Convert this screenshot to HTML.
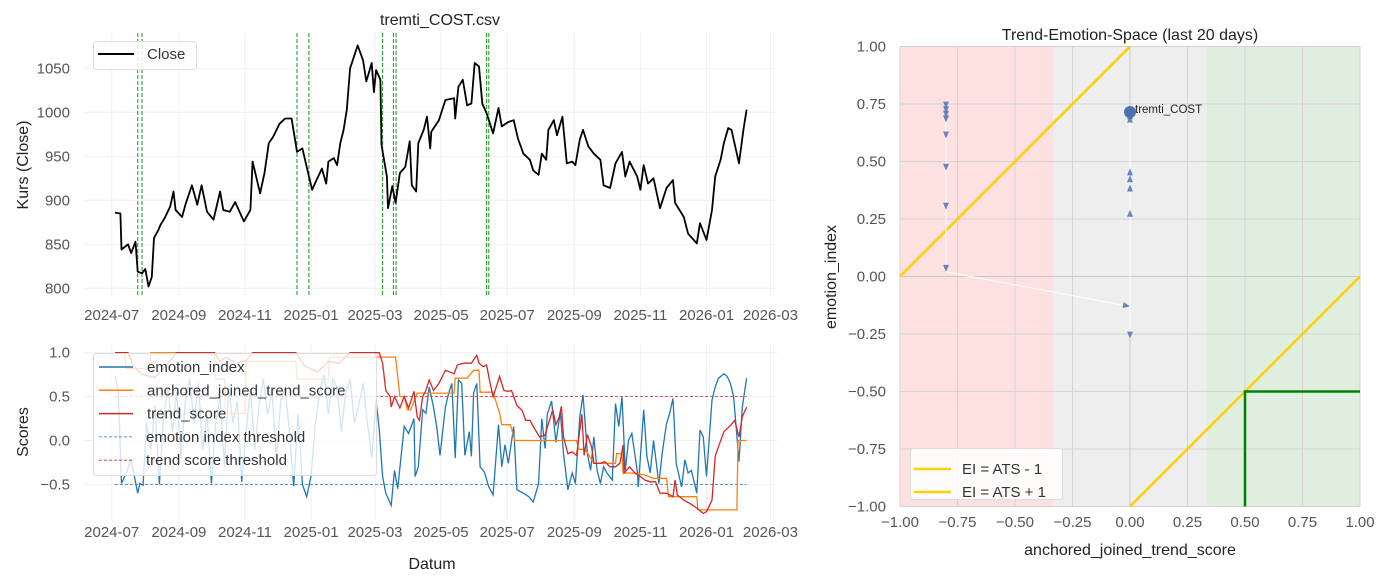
<!DOCTYPE html>
<html><head><meta charset="utf-8"><style>
html,body{margin:0;padding:0;background:#fff;}
svg{display:block;font-family:"Liberation Sans",Arial,sans-serif;}
</style></head><body>
<svg id="c" width="1388" height="584" viewBox="0 0 1388 584" xmlns="http://www.w3.org/2000/svg"></svg>
<script>
// ---- data (days since 2024-07-01) ----
const closeDays=[3,8,9,15,18,22,24,28,31,34,37,39,43,45,49,54,57,59,65,68,74,79,83,88,94,100,103,109,114,122,128,130,137,141,145,149,155,160,166,171,176,180,185,189,194,198,200,205,208,211,214,217,220,223,227,232,235,240,242,244,248,249,254,255,259,262,266,271,275,277,281,283,288,291,294,295,302,308,316,317,320,324,328,332,335,339,342,346,352,357,360,366,371,375,380,386,389,394,397,401,403,408,411,416,420,425,428,432,435,440,445,451,454,460,465,471,474,478,485,488,491,495,500,506,512,518,520,528,532,540,543,549,554,557,562,565,569,572,579,583,586];
const closeVals=[886,885,844,850,840,853,819,817,822,802,813,857,866,872,880,893,910,889,881,895,917,895,917,887,878,910,889,887,898,876,889,944,908,931,965,972,987,993,993,955,959,938,912,923,936,919,944,948,940,965,980,1003,1050,1061,1076,1059,1035,1056,1023,1048,1037,963,927,891,916,897,931,938,967,917,910,965,980,995,959,978,991,1014,1016,993,1029,1037,1008,1010,1056,1052,1010,999,976,1005,984,989,991,970,953,946,934,929,953,946,980,991,974,995,942,944,940,969,980,961,953,946,917,914,942,955,927,944,927,912,940,919,925,891,914,923,897,881,862,851,874,855,889,927,946,965,982,980,942,980,1003];
const signalDays=[24,28,171,182,250,260,262.5,346,348];
const trendDays=[3,15,20,28,40,50,60,95,100,105,115,125,130,170,178,190,200,210,220,247,250,253,257,258,261,266,270,274,279,282,284,287,290,293,297,302,308,316,319,325,332,337,339,343,346,349,352,355,358,362,366,369,374,379,382,386,391,395,400,403,407,410,413,415,417,421,425,429,434,436,439,443,445,451,455,460,465,469,472,473,478,483,488,492,497,502,506,512,518,520,522,528,534,540,546,549,554,557,560,565,571,575,579,582,586];
const trendVals=[1,1,0.85,0.75,0.72,0.85,1,1,0.9,0.95,0.88,0.92,1,1,0.85,0.78,0.9,0.88,1,1,0.88,0.57,0.5,0.38,0.5,0.37,0.5,0.37,0.56,0.27,0.23,0.5,0.57,0.69,0.57,0.65,0.8,0.76,0.86,0.88,0.88,0.97,0.88,0.84,0.86,0.67,0.5,0.61,0.73,0.57,0.56,0.57,0.4,0.34,0.23,0.23,0.12,0.04,0.06,0.19,0.35,0.18,0.27,0.39,0.04,-0.15,-0.13,-0.17,0.3,-0.17,0.07,-0.08,-0.26,-0.26,-0.24,-0.3,-0.3,-0.26,-0.05,-0.37,-0.3,-0.37,-0.41,-0.45,-0.47,-0.47,-0.6,-0.6,-0.64,-0.45,-0.62,-0.68,-0.72,-0.77,-0.83,-0.81,-0.68,-0.18,-0.07,0.1,0.17,0.23,0.04,0.27,0.38];
const anchDays=[3,12,13,35,36,95,96,104,105,123,124,170,171,200,201,247,250,262,266,270,273,276,282,303,316,317,328,334,339,340,352,358,360,368,372,429,431,437,445,465,466,471,472,480,491,500,512,514,540,541,577,578,586];
const anchVals=[1,1,0.82,0.82,1,1,0.7,0.7,0.31,0.31,0.9,0.9,0.7,0.7,0.95,0.95,0.95,0.95,0.5,0.5,0.35,0.35,0.54,0.54,0.54,0.71,0.71,0.8,0.8,0.55,0.55,0.31,0.18,0.18,0,0,-0.1,-0.1,-0.26,-0.26,-0.15,-0.15,-0.37,-0.37,-0.39,-0.43,-0.43,-0.64,-0.64,-0.79,-0.79,0,0];
const emoDays=[3,6,9,12,18,24,26,29,32,36,40,44,48,52,56,60,64,68,72,76,80,84,88,92,96,100,104,108,112,116,120,124,128,132,136,140,144,148,152,156,160,164,168,172,176,180,184,188,192,196,200,204,208,212,216,220,224,228,232,236,240,244,247,250,253,258,261,264,267,270,274,279,280,283,287,290,293,297,300,303,308,311,314,317,320,323,326,330,332,334,337,340,344,348,352,357,360,363,366,371,374,380,385,389,394,397,400,402,406,410,414,417,421,425,428,432,435,439,442,445,448,451,454,457,462,465,468,471,474,477,480,485,486,491,494,497,500,505,508,512,515,518,521,526,529,532,535,540,543,546,549,554,557,560,565,568,571,574,579,582,586];
const emoVals=[0.73,0.58,-0.49,-0.41,-0.22,-0.6,-0.49,-0.51,0.2,-0.1,0.4,-0.5,0.3,0.6,0.1,0.55,-0.2,0.45,0.7,0.2,0.65,-0.1,0.3,-0.49,0.2,0.5,-0.3,0.6,0.2,0.45,-0.47,0.1,0.6,-0.1,0.4,0.7,0.3,0.55,-0.2,0.45,0.6,0.1,-0.52,0.3,-0.5,-0.64,-0.4,0.2,0.55,0.75,0.3,0.7,0.6,0.1,0.55,0.7,0.2,0.4,0.65,0.2,-0.2,0.45,0.12,-0.41,-0.6,-0.74,-0.34,-0.55,-0.19,0.16,0.08,0.25,-0.41,-0.3,0.35,0.31,0.61,0.38,0.16,-0.17,0.38,0.54,0.65,-0.2,0.69,0.65,-0.17,0.1,-0.18,0.54,0.65,-0.3,-0.36,-0.53,-0.62,0.18,-0.3,-0.05,-0.26,0.16,-0.56,-0.6,-0.64,-0.7,-0.49,0.25,-0.09,0.3,0.45,-0.02,0.33,-0.15,-0.56,-0.37,-0.49,0.27,0.52,-0.15,-0.34,0.04,-0.34,-0.49,-0.3,-0.37,-0.45,0.42,0.16,0.5,-0.34,0,0.08,-0.34,-0.53,0.35,-0.18,-0.37,0,-0.49,-0.15,0.19,0.31,0.48,-0.26,-0.53,-0.22,-0.37,-0.34,-0.6,0.12,0.04,-0.41,0.46,0.61,0.71,0.76,0.73,0.65,0.5,-0.24,0.38,0.71];
const emoThreshold=-0.5, trendThreshold=0.5;
const monthTickDays=[0,62,123,184,243,304,365,427,488,549,608];
const monthTickLabels=["2024-07","2024-09","2024-11","2025-01","2025-03","2025-05","2025-07","2025-09","2025-11","2026-01","2026-03"];
const closeTicks=[800,850,900,950,1000,1050];
const scoreTicks=[-0.5,0,0.5,1.0];
const scoreTickLabels=["\u22120.5","0.0","0.5","1.0"];
const trajATS=[-0.8,-0.8,-0.8,-0.8,-0.8,-0.8,-0.8,-0.8,-0.8,0,0,0,0,0,0,0,0];
const trajEI=[0.75,0.73,0.71,0.69,0.67,0.6,0.46,0.29,0.02,-0.13,-0.27,0.29,0.4,0.44,0.47,0.7,0.715];
const spaceTicks=[-1,-0.75,-0.5,-0.25,0,0.25,0.5,0.75,1];
const spaceTickLabels=["\u22121.00","\u22120.75","\u22120.50","\u22120.25","0.00","0.25","0.50","0.75","1.00"];

// ---- scales ----
const xD=d=>111.7+d*1.0835;
const yC=v=>112.3-(v-1000)*0.88;
const yS=v=>440.5-v*87.8;
const xR=v=>1130+v*230;
const yR=v=>276.5-v*230;

const svg=document.getElementById('c');
const NS='http://www.w3.org/2000/svg';
function mk(tag,attrs,parent){const e=document.createElementNS(NS,tag);for(const k in attrs)e.setAttribute(k,attrs[k]);(parent||svg).appendChild(e);return e;}
function txt(s,attrs,parent){const e=mk('text',attrs,parent);e.textContent=s;return e;}
function pts(xs,ys,fx,fy){return xs.map((d,i)=>fx(d).toFixed(1)+','+fy(ys[i]).toFixed(1)).join(' ');}

// ===== Top chart =====
let g=mk('g',{});


monthTickDays.forEach((d,i)=>{
  const l=mk('line',{x1:xD(d),x2:xD(d),y1:33,y2:297,stroke:'#efefef','stroke-width':1},g);
  
  
  const t=txt(monthTickLabels[i],{x:xD(d),y:320,'font-size':15,fill:'#555','text-anchor':'middle'},g);
  
  
});
closeTicks.forEach(v=>{
  const l=mk('line',{x1:85,x2:777,y1:yC(v),y2:yC(v),stroke:'#efefef','stroke-width':1},g);
  
  
  const t=txt(String(v),{x:70,y:yC(v)+5,'font-size':15,fill:'#555','text-anchor':'end'},g);
  
  
});
signalDays.forEach(d=>{
  const l=mk('line',{x1:xD(d),x2:xD(d),y1:33,y2:297,stroke:'#2ca02c','stroke-width':1.1,'stroke-dasharray':'4,2'},g);
  
  
});
let cl=mk('polyline',{points:pts(closeDays,closeVals,xD,yC),fill:'none',stroke:'#000','stroke-width':1.8,'stroke-linejoin':'round'},g);


let tt=txt('tremti_COST.csv',{x:440,y:25,'font-size':16,fill:'#222','text-anchor':'middle'},g);


let yl=txt('Kurs (Close)',{x:28,y:165,'font-size':16,fill:'#222','text-anchor':'middle',transform:'rotate(-90 28 165)'},g);


let lg=mk('g',{},g);


mk('rect',{x:93.5,y:41.5,width:103,height:28,rx:3,fill:'#fff','fill-opacity':0.85,stroke:'#ddd'},lg);
mk('line',{x1:98,x2:134,y1:54,y2:54,stroke:'#000','stroke-width':2},lg);
txt('Close',{x:147,y:59,'font-size':15,fill:'#333'},lg);

// ===== Bottom chart =====
g=mk('g',{});


monthTickDays.forEach((d,i)=>{
  const l=mk('line',{x1:xD(d),x2:xD(d),y1:345,y2:520,stroke:'#efefef','stroke-width':1},g);
  
  
  const t=txt(monthTickLabels[i],{x:xD(d),y:537,'font-size':15,fill:'#555','text-anchor':'middle'},g);
  
  
});
scoreTicks.forEach((v,i)=>{
  const l=mk('line',{x1:85,x2:777,y1:yS(v),y2:yS(v),stroke:'#efefef','stroke-width':1},g);
  
  
  const t=txt(scoreTickLabels[i],{x:70,y:yS(v)+5,'font-size':15,fill:'#555','text-anchor':'end'},g);
  
  
});
const d0=closeDays[0], d1=closeDays[closeDays.length-1];
let th1=mk('line',{x1:xD(d0),x2:xD(d1),y1:yS(emoThreshold),y2:yS(emoThreshold),stroke:'#1f77b4','stroke-width':0.8,'stroke-dasharray':'3,2'},g);


let th2=mk('line',{x1:xD(d0),x2:xD(d1),y1:yS(trendThreshold),y2:yS(trendThreshold),stroke:'#d62728','stroke-width':0.8,'stroke-dasharray':'3,2'},g);


let e1=mk('polyline',{points:pts(emoDays,emoVals,xD,yS),fill:'none',stroke:'#1f77b4','stroke-width':1.3},g);


let e2=mk('polyline',{points:pts(anchDays,anchVals,xD,yS),fill:'none',stroke:'#ff7f0e','stroke-width':1.3},g);


let e3=mk('polyline',{points:pts(trendDays,trendVals,xD,yS),fill:'none',stroke:'#d62728','stroke-width':1.3},g);


let yl2=txt('Scores',{x:28,y:432,'font-size':16,fill:'#222','text-anchor':'middle',transform:'rotate(-90 28 432)'},g);


let xl2=txt('Datum',{x:432,y:569,'font-size':16,fill:'#222','text-anchor':'middle'},g);


lg=mk('g',{},g);


mk('rect',{x:93.5,y:353.5,width:283,height:122,rx:3,fill:'#fff','fill-opacity':0.8,stroke:'#ddd'},lg);
const legItems=[['emotion_index','#1f77b4',0],['anchored_joined_trend_score','#ff7f0e',0],['trend_score','#d62728',0],['emotion index threshold','#1f77b4',1],['trend score threshold','#d62728',1]];
legItems.forEach((it,i)=>{
  const y=367+i*23.3;
  mk('line',{x1:99,x2:133,y1:y,y2:y,stroke:it[1],'stroke-width':it[2]?0.8:1.5,'stroke-dasharray':it[2]?'3,2':'none'},lg);
  txt(it[0],{x:it[2]?146:147,y:y+5,'font-size':15,fill:'#333'},lg);
});

// ===== Right chart =====
g=mk('g',{});


let r1=mk('rect',{x:xR(-1),y:yR(1),width:xR(-1/3)-xR(-1),height:yR(-1)-yR(1),fill:'#fde0e0'},g);


let r2=mk('rect',{x:xR(-1/3),y:yR(1),width:xR(1/3)-xR(-1/3),height:yR(-1)-yR(1),fill:'#eeeeee'},g);


let r3=mk('rect',{x:xR(1/3),y:yR(1),width:xR(1)-xR(1/3),height:yR(-1)-yR(1),fill:'#e0eee0'},g);


spaceTicks.forEach((v,i)=>{
  const c=v===0?'#c8c8c8':'#d6d2d2';
  const l1=mk('line',{x1:xR(v),x2:xR(v),y1:yR(1),y2:yR(-1),stroke:c,'stroke-width':1},g);
  
  
  const l2=mk('line',{x1:xR(-1),x2:xR(1),y1:yR(v),y2:yR(v),stroke:c,'stroke-width':1},g);
  
  
  const t1=txt(spaceTickLabels[i],{x:xR(v),y:527,'font-size':15,fill:'#555','text-anchor':'middle'},g);
  
  
  const t2=txt(spaceTickLabels[i],{x:886,y:yR(v)+5,'font-size':15,fill:'#555','text-anchor':'end'},g);
  
  
});
let gl1=mk('line',{x1:xR(-1),y1:yR(0),x2:xR(0),y2:yR(1),stroke:'#ffd000','stroke-width':2.5},g);


let gl2=mk('line',{x1:xR(0),y1:yR(-1),x2:xR(1),y2:yR(0),stroke:'#ffd000','stroke-width':2.5},g);


let gz=mk('polyline',{points:`${xR(0.5)},${yR(-1)} ${xR(0.5)},${yR(-0.5)} ${xR(1)},${yR(-0.5)}`,fill:'none',stroke:'#008000','stroke-width':2.5},g);


let tr=mk('polyline',{points:pts(trajATS,trajEI,xR,yR),fill:'none',stroke:'#fff','stroke-width':1},g);


for(let i=1;i<trajATS.length;i++){
  const x0=xR(trajATS[i-1]),y0=yR(trajEI[i-1]),x1=xR(trajATS[i]),y1=yR(trajEI[i]);
  const a=Math.atan2(y1-y0,x1-x0)*180/Math.PI;
  const m=mk('polygon',{points:'0,0 -7,-3 -7,3',fill:'#4c72b0','fill-opacity':0.85,transform:`translate(${x1.toFixed(1)},${y1.toFixed(1)}) rotate(${a.toFixed(1)})`},g);
  
  
}
const last=trajATS.length-1;
let dot=mk('circle',{cx:xR(trajATS[last]),cy:yR(trajEI[last]),r:6,fill:'#4c72b0'},g);


let dl=txt('tremti_COST',{x:xR(trajATS[last])+5,y:yR(trajEI[last])+1,'font-size':11.5,fill:'#222'},g);


let rt=txt('Trend-Emotion-Space (last 20 days)',{x:1130,y:40,'font-size':16,fill:'#222','text-anchor':'middle'},g);


let rxl=txt('anchored_joined_trend_score',{x:1130,y:555,'font-size':16,fill:'#222','text-anchor':'middle'},g);


let ryl=txt('emotion_index',{x:836,y:277,'font-size':16,fill:'#222','text-anchor':'middle',transform:'rotate(-90 836 277)'},g);


lg=mk('g',{},g);


mk('rect',{x:910.5,y:448.5,width:152,height:51,rx:3,fill:'#fff','fill-opacity':0.85,stroke:'#ddd'},lg);
['EI = ATS - 1','EI = ATS + 1'].forEach((s,i)=>{
  const y=469+i*23;
  mk('line',{x1:914,x2:951,y1:y,y2:y,stroke:'#ffd000','stroke-width':2.5},lg);
  txt(s,{x:962,y:y+5,'font-size':15,fill:'#333'},lg);
});
</script>
</body></html>
